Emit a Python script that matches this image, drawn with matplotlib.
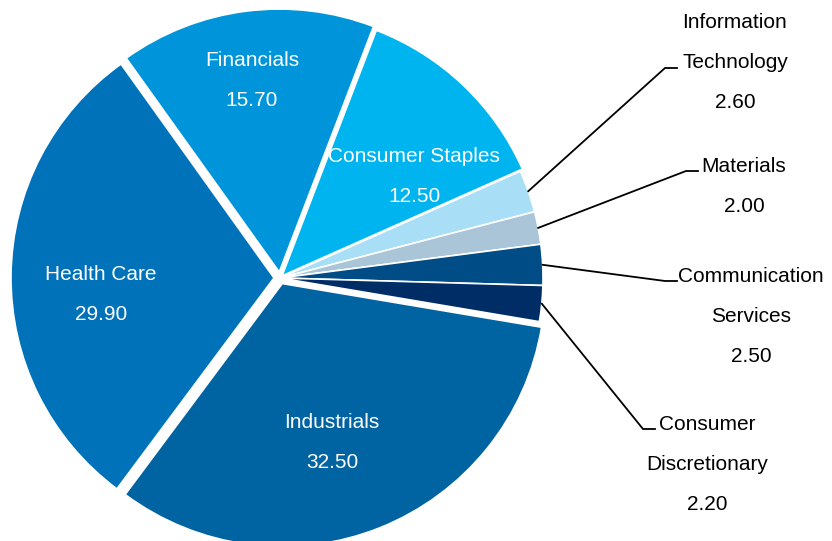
import numpy as np
import matplotlib
matplotlib.use("Agg")
import matplotlib.pyplot as plt

plt.rcParams['font.family'] = ['Liberation Sans', 'DejaVu Sans']

# Sector weights (%), in drawing order (clockwise from Consumer Staples)
sectors = ['Consumer Staples', 'Information Technology', 'Materials',
           'Communication Services', 'Consumer Discretionary',
           'Industrials', 'Health Care', 'Financials']
weights = [12.50, 2.60, 2.00, 2.50, 2.20, 32.50, 29.90, 15.70]
colors = ['#00B5EF', '#A9DEF7', '#AAC5D7', '#004C87', '#002D66',
          '#0063A2', '#0072B9', '#0095DA']
explode = [3, 0, 0, 0, 0, 6, 6, 6]

# label lines (text split as in the chart)
label_lines = {
    'Consumer Staples': ['Consumer Staples'],
    'Information Technology': ['Information', 'Technology'],
    'Materials': ['Materials'],
    'Communication Services': ['Communication', 'Services'],
    'Consumer Discretionary': ['Consumer', 'Discretionary'],
    'Industrials': ['Industrials'],
    'Health Care': ['Health Care'],
    'Financials': ['Financials'],
}

W, H = 832, 541
fig = plt.figure(figsize=(W / 100, H / 100), dpi=100)
ax = fig.add_axes([0, 0, 1, 1])


def py(y):
    # pixel row -> data y
    return H - y


cx, cy, R = 280, 278, 263
start = 69
wedges, _ = ax.pie(weights, colors=colors, explode=explode, startangle=start,
                   counterclock=False, center=(cx, py(cy)), radius=R,
                   wedgeprops=dict(edgecolor='white', linewidth=1.2),
                   frame=True)
ax.set_xlim(0, W)
ax.set_ylim(0, H)
ax.set_aspect('equal')
ax.axis('off')

gap = 40  # line spacing in px

# inside labels: centre x, first line y (pixels)
inside_pos = {
    'Financials': (252, 60),
    'Consumer Staples': (414, 157),
    'Health Care': (101, 274),
    'Industrials': (332, 423),
}
# outside labels: text centre x, first line y, elbow x, line index the leader points at
outside_pos = {
    'Information Technology': (735, 23, 665, 1),
    'Materials': (744, 166, 686, 0),
    'Communication Services': (751, 276, 665, 0),
    'Consumer Discretionary': (707, 424, 643, 0),
}

for w, name, val in zip(wedges, sectors, weights):
    lines = label_lines[name] + [f'{val:.2f}']
    if name in inside_pos:
        x0, y0 = inside_pos[name]
        for i, t in enumerate(lines):
            ax.text(x0, py(y0 + i * gap), t, color='white', fontsize=15,
                    ha='center', va='center')
    else:
        x0, y0, ex, li = outside_pos[name]
        for i, t in enumerate(lines):
            ax.text(x0, py(y0 + i * gap), t, color='black', fontsize=15,
                    ha='center', va='center')
        mid = np.deg2rad((w.theta1 + w.theta2) / 2)
        sx = w.center[0] + R * np.cos(mid)
        sy = w.center[1] + R * np.sin(mid)
        ey = py(y0 + li * gap + 5)
        ax.plot([sx, ex, ex + 12], [sy, ey, ey], color='black', lw=1.3,
                solid_joinstyle='miter')

fig.savefig('out.png', dpi=100)
